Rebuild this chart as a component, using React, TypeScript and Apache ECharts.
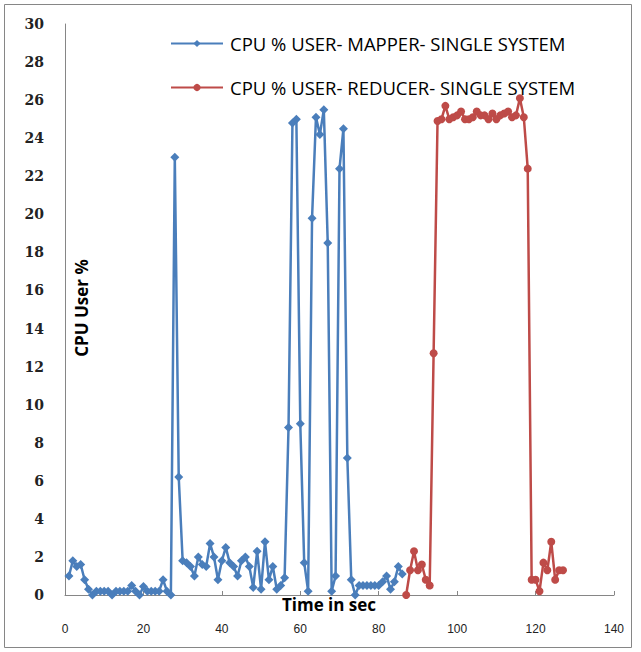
import React, { useEffect, useRef } from "react";
import * as echarts from "echarts";

// Time axis (seconds)
const mapperStart = 1;
const mapperValues = [
  1.0, 1.8, 1.5, 1.6, 0.8, 0.3, 0.0, 0.2, 0.2, 0.2,
  0.2, 0.0, 0.2, 0.2, 0.2, 0.2, 0.5, 0.2, 0.0, 0.45,
  0.2, 0.2, 0.2, 0.2, 0.8, 0.2, 0.0, 23.0, 6.2, 1.8,
  1.7, 1.5, 1.0, 2.0, 1.6, 1.5, 2.7, 2.0, 0.8, 1.8,
  2.5, 1.7, 1.5, 1.0, 1.8, 2.0, 1.5, 0.4, 2.3, 0.3,
  2.8, 0.8, 1.5, 0.3, 0.5, 0.9, 8.8, 24.8, 25.0, 9.0,
  1.7, 0.2, 19.8, 25.1, 24.2, 25.5, 18.5, 0.2, 1.0, 22.4,
  24.5, 7.2, 0.8, 0.0, 0.5, 0.5, 0.5, 0.5, 0.5, 0.5,
  0.7, 1.0, 0.3, 0.7, 1.5, 1.1,
];

const reducerStart = 87;
const reducerValues = [
  0.0, 1.3, 2.3, 1.3, 1.6, 0.8, 0.5, 12.7, 24.9, 25.0,
  25.7, 25.0, 25.1, 25.2, 25.4, 25.0, 25.0, 25.1, 25.4, 25.2,
  25.2, 25.0, 25.3, 25.0, 25.2, 25.3, 25.4, 25.1, 25.2, 26.1,
  25.1, 22.4, 0.8, 0.8, 0.2, 1.7, 1.3, 2.8, 0.8, 1.3,
  1.3,
];

const seriesNames = [
  "CPU % USER- MAPPER- SINGLE SYSTEM",
  "CPU % USER- REDUCER- SINGLE SYSTEM",
];
const xTitle = "Time in sec";
const yTitle = "CPU User %";

const toPairs = (start: number, vals: number[]) =>
  vals.map((v, i) => [start + i, v]);

export default function App() {
  const ref = useRef<HTMLDivElement>(null);
  useEffect(() => {
    if (!ref.current) return;
    const chart = echarts.init(ref.current, null, { renderer: "svg" });
    chart.setOption({
      animation: false,
      backgroundColor: "#ffffff",
      grid: { left: 65, right: 27, top: 24, bottom: 57 },
      legend: {
        orient: "vertical",
        left: 170,
        top: 34,
        padding: 0,
        itemWidth: 52,
        itemHeight: 9,
        itemGap: 25,
        data: seriesNames,
        textStyle: {
          fontFamily: "Open Sans",
          fontSize: 18.5,
          color: "#000",
          padding: [0, 0, 0, 2],
        },
      },
      xAxis: {
        type: "value",
        min: 0,
        max: 140,
        interval: 20,
        splitLine: { show: false },
        axisLine: { lineStyle: { color: "#868686", width: 1 } },
        axisTick: { show: true, inside: true, length: 4, lineStyle: { color: "#868686" } },
        axisLabel: {
          margin: 28,
          fontFamily: "Liberation Sans",
          fontSize: 12,
          color: "#222",
        },
      },
      yAxis: {
        type: "value",
        min: 0,
        max: 30,
        interval: 2,
        splitLine: { show: false },
        axisLine: { show: true, lineStyle: { color: "#868686", width: 1 } },
        axisTick: { show: false },
        axisLabel: {
          margin: 21,
          fontFamily: "DejaVu Serif",
          fontWeight: "bold",
          fontSize: 14,
          color: "#222",
        },
      },
      graphic: [
        {
          type: "rect",
          shape: { x: 4.5, y: 4.5, width: 627, height: 643 },
          style: { fill: "none", stroke: "#868686", lineWidth: 1 },
          silent: true,
        },
        {
          type: "text",
          x: 329,
          y: 604,
          style: {
            text: xTitle,
            fontFamily: "Open Sans",
            fontWeight: "bold",
            fontSize: 17,
            fill: "#000",
            align: "center",
            verticalAlign: "middle",
          },
        },
        {
          type: "text",
          x: 81,
          y: 308,
          rotation: Math.PI / 2,
          style: {
            text: yTitle,
            fontFamily: "Open Sans",
            fontWeight: "bold",
            fontSize: 17,
            fill: "#000",
            align: "center",
            verticalAlign: "middle",
          },
        },
      ],
      series: [
        {
          name: seriesNames[0],
          type: "line",
          data: toPairs(mapperStart, mapperValues),
          symbol: "diamond",
          symbolSize: 9,
          color: "#4A7EBB",
          lineStyle: { width: 2.5, color: "#4A7EBB" },
          itemStyle: { color: "#4A7EBB" },
        },
        {
          name: seriesNames[1],
          type: "line",
          data: toPairs(reducerStart, reducerValues),
          symbol: "circle",
          symbolSize: 8,
          color: "#BE4B48",
          lineStyle: { width: 2.5, color: "#BE4B48" },
          itemStyle: { color: "#BE4B48" },
        },
      ],
    });
    return () => chart.dispose();
  }, []);
  return (
    <div
      ref={ref}
      style={{ position: "fixed", left: 0, top: 0, width: 641, height: 652 }}
    />
  );
}
